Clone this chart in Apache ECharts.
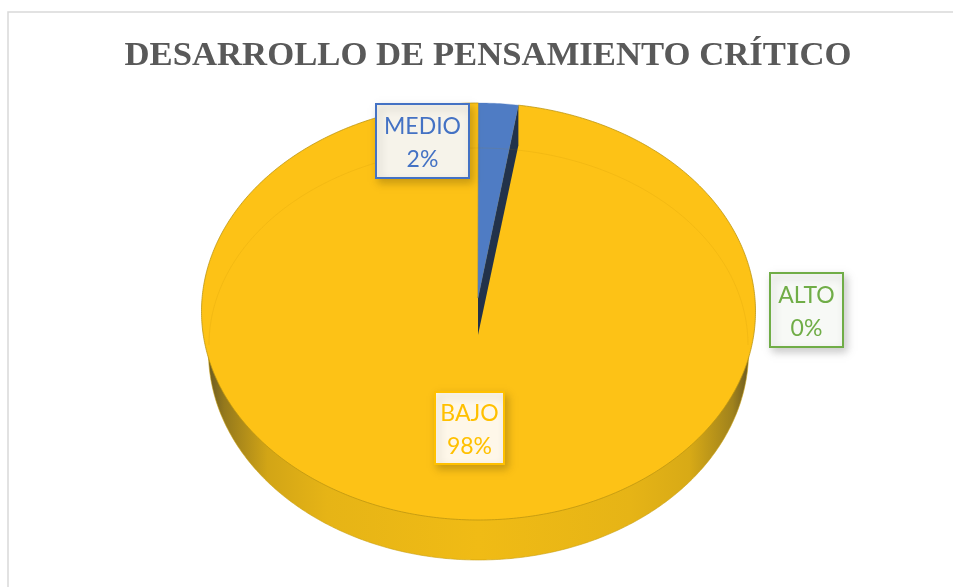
<!DOCTYPE html>
<html>
<head>
<meta charset="utf-8">
<style>html,body{margin:0;padding:0;background:#fff}#c{width:953px;height:587px}</style>
<script src="https://cdn.jsdelivr.net/npm/echarts@6/dist/echarts.min.js"></script>
</head>
<body>
<div id="c"></div>
<script>
var titleText = 'DESARROLLO DE PENSAMIENTO CRÍTICO';
var categories = ['ALTO', 'MEDIO', 'BAJO'];
var values = [0, 2.3, 97.7];
var faceColors = ['#70AD47', '#4F7CC4', '#FDC216'];
var wallColors = ['#70AD47', '#22324A', null];
var labelColors = ['#70AD47', '#4472C4', '#FFC000'];
var labelFills = ['#F7F9F6', '#F6F3EA', '#FEF7E9'];

// Layout of the tilted pie (pixels)
var TOP = {cx: 478.5, cy: 311.5, rx: 277, ry: 208.5};
var BOTTOM = {cx: 478.5, cy: 352, rx: 270, ry: 208};
var BEVEL = {cx: 478.5, cy: 345, rx: 269.5, ry: 197};
var APEX = [478, 298];
var APEX_LOW = [478, 335];
var DEPTH = 40;
var labelBoxes = [
  {x: 770, y: 273, w: 73, h: 74},
  {x: 376, y: 104, w: 93, h: 74},
  {x: 435, y: 392, w: 69, h: 72}
];

var total = values.reduce(function (a, b) { return a + b; }, 0);
function pt(e, t) { return [e.cx + e.rx * Math.sin(t), e.cy - e.ry * Math.cos(t)]; }
function arc(e, a, b) {
  var n = Math.max(2, Math.ceil(Math.abs(b - a) / 0.01)), out = [];
  for (var i = 0; i <= n; i++) { out.push(pt(e, a + (b - a) * i / n)); }
  return out;
}
function startOf(i) {
  var s = 0;
  for (var k = 0; k < i; k++) { s += values[k]; }
  return s / total * Math.PI * 2;
}

function renderItem(params, api) {
  var i = params.dataIndex, v = api.value(0), kids = [];
  var a = startOf(i), b = a + v / total * Math.PI * 2;
  if (v > 0) {
    var isMain = wallColors[i] === null;
    if (isMain) {
      kids.push({type: 'polygon', z2: 1, shape: {points: arc(BOTTOM, 0, Math.PI * 2)}, style: {
        fill: new echarts.graphic.LinearGradient(0, 0, 1, 0, [
          {offset: 0, color: '#6B5A22'}, {offset: 0.03, color: '#95791C'},
          {offset: 0.11, color: '#D2A516'}, {offset: 0.22, color: '#E6B416'}, {offset: 0.5, color: '#F0BB15'},
          {offset: 0.78, color: '#E6B416'}, {offset: 0.89, color: '#D8AA16'}, {offset: 0.97, color: '#A0821C'},
          {offset: 1, color: '#6B5A22'}
        ]), stroke: '#C9A012', lineWidth: 0.6}});
    }
    var face = [APEX].concat(arc(TOP, a, b));
    kids.push({type: 'polygon', z2: isMain ? 2 : 6, shape: {points: face},
      style: {fill: faceColors[i], stroke: isMain ? '#BD9611' : faceColors[i], lineWidth: isMain ? 0.8 : 0.3}});
    if (!isMain) {
      var e = pt(TOP, b);
      kids.push({type: 'polygon', z2: 5, shape: {points: [APEX, e, [e[0], e[1] + DEPTH], APEX_LOW]},
        style: {fill: wallColors[i]}});
    } else {
      kids.push({type: 'polyline', z2: 7, shape: {points: arc(BEVEL, -Math.PI / 2, Math.PI / 2)},
        style: {fill: 'none', stroke: 'rgba(170,125,0,0.12)', lineWidth: 1}});
    }
  }
  var box = labelBoxes[i];
  kids.push({type: 'rect', z2: 10, shape: {x: box.x, y: box.y, width: box.w, height: box.h},
    style: {fill: labelFills[i], stroke: labelColors[i], lineWidth: 2,
      shadowBlur: 8, shadowColor: 'rgba(0,0,0,0.2)', shadowOffsetX: 3, shadowOffsetY: 4}});
  kids.push({type: 'text', z2: 11, x: box.x + box.w / 2, y: box.y + box.h / 2 + 2.5,
    style: {text: categories[i] + '\n' + Math.round(v) + '%', fill: labelColors[i],
      font: '23px Lato, "Open Sans", sans-serif', align: 'center', verticalAlign: 'middle', lineHeight: 33}});
  return {type: 'group', children: kids};
}

var chart = echarts.init(document.getElementById('c'), null, {renderer: 'canvas'});
chart.setOption({
  backgroundColor: '#ffffff',
  animation: false,
  title: {
    text: titleText, left: 483, top: 34, textAlign: 'center',
    textStyle: {fontFamily: '"Liberation Serif", serif', fontWeight: 'bold', fontSize: 34.7, color: '#595959'}
  },
  graphic: [{type: 'rect', silent: true, z: -1, shape: {x: 8, y: 12, width: 1000, height: 640},
    style: {fill: 'none', stroke: '#D9D9D9', lineWidth: 1.5}}],
  series: [{
    type: 'custom', coordinateSystem: 'none', silent: true, renderItem: renderItem,
    data: categories.map(function (c, i) { return {name: c, value: [values[i]]}; })
  }]
});
</script>
</body>
</html>
